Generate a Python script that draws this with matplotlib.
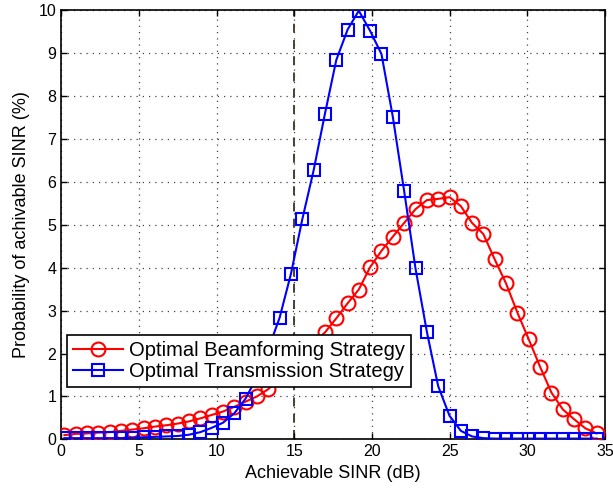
import numpy as np
import matplotlib
matplotlib.use("Agg")
import matplotlib.pyplot as plt

plt.rcParams['font.family'] = ['Liberation Sans', 'DejaVu Sans']

# SINR grid (dB)
sinr_db = [0.20, 0.93, 1.66, 2.39, 3.12, 3.85, 4.57, 5.30, 6.03, 6.76,
           7.49, 8.22, 8.95, 9.68, 10.41, 11.14, 11.86, 12.59, 13.32, 14.05,
           14.78, 15.51, 16.24, 16.97, 17.70, 18.43, 19.15, 19.88, 20.61, 21.34,
           22.07, 22.80, 23.53, 24.26, 24.99, 25.72, 26.44, 27.17, 27.90, 28.63,
           29.36, 30.09, 30.82, 31.55, 32.28, 33.01, 33.73, 34.46]

# Probability (%) - optimal beamforming strategy
beamforming = [0.10, 0.13, 0.14, 0.16, 0.17, 0.20, 0.23, 0.26, 0.30, 0.33,
               0.37, 0.42, 0.49, 0.57, 0.65, 0.76, 0.88, 1.00, 1.17, 1.42,
               1.72, 2.00, 2.25, 2.49, 2.82, 3.17, 3.49, 4.01, 4.39, 4.72,
               5.04, 5.36, 5.57, 5.60, 5.64, 5.43, 5.04, 4.78, 4.19, 3.63,
               2.95, 2.33, 1.69, 1.09, 0.70, 0.47, 0.26, 0.14]

# Probability (%) - optimal transmission strategy
transmission = [0.03, 0.03, 0.03, 0.03, 0.03, 0.03, 0.04, 0.05, 0.06, 0.07,
                0.08, 0.11, 0.17, 0.27, 0.39, 0.61, 0.95, 1.45, 2.10, 2.83,
                3.85, 5.12, 6.26, 7.58, 8.83, 9.54, 9.98, 9.51, 8.97, 7.51,
                5.78, 3.98, 2.51, 1.24, 0.55, 0.20, 0.07, 0.03, 0.02, 0.02,
                0.02, 0.02, 0.02, 0.02, 0.02, 0.02, 0.02, 0.02]

threshold_db = 15

fig = plt.figure(figsize=(6.13, 4.91), dpi=100)
ax = fig.add_axes([0.100, 0.105, 0.887, 0.875])

ax.axvline(threshold_db, color='#3d3020', linestyle=(0, (5, 4)), linewidth=1.3, zorder=1)

ax.plot(sinr_db, beamforming, color='#ff0000', linewidth=1.5, marker='o',
        markersize=10, markerfacecolor='none', markeredgewidth=1.5,
        label='Optimal Beamforming Strategy', zorder=3)
ax.plot(sinr_db, transmission, color='#0000ff', linewidth=1.5, marker='s',
        markersize=9, markerfacecolor='none', markeredgewidth=1.5,
        label='Optimal Transmission Strategy', zorder=3)

ax.set_xlim(0, 35)
ax.set_ylim(0, 10)
ax.set_xticks(np.arange(0, 36, 5))
ax.set_yticks(np.arange(0, 11, 1))
ax.grid(True, linestyle=(0, (1, 4)), color='#444444', linewidth=0.9)
ax.tick_params(direction='in', labelsize=11.5, length=4, width=1, top=True, right=True)
for s in ax.spines.values():
    s.set_linewidth(1.2)

ax.set_xlabel('Achievable SINR (dB)', fontsize=13, labelpad=4)
ax.set_ylabel('Probability of achivable SINR (%)', fontsize=13, labelpad=6)

leg = ax.legend(loc='lower left', bbox_to_anchor=(0.010, 0.122), fontsize=14.5,
                frameon=True, fancybox=False, framealpha=1, edgecolor='black',
                handlelength=2.5, borderpad=0.3, labelspacing=0.1,
                handletextpad=0.3, borderaxespad=0)
leg.get_frame().set_linewidth(1.2)
leg.set_zorder(5)

fig.savefig('out.png', dpi=100)
